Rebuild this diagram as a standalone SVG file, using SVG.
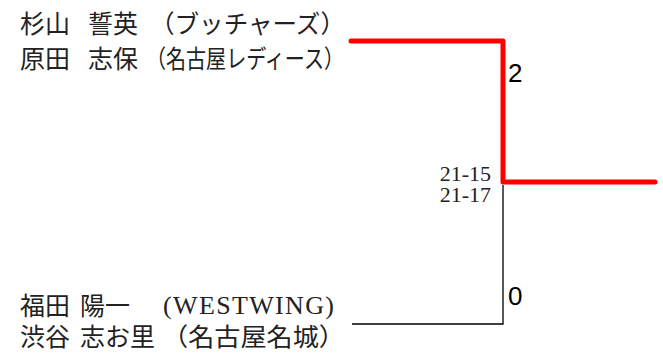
<svg xmlns="http://www.w3.org/2000/svg" width="663" height="356" viewBox="0 0 663 356">
<style>
.jp{font-family:"Noto Sans CJK JP","Noto Sans CJK SC",sans-serif;font-size:25px;fill:#222}
.lat{font-family:"Liberation Serif","Noto Sans CJK JP",serif;font-size:26px;fill:#222}
.score{font-family:"Liberation Serif",serif;font-size:22px;fill:#222;text-anchor:end}
.games{font-family:"Liberation Sans",sans-serif;font-size:26px;fill:#000}
.win{fill:none;stroke:#ff0000;stroke-width:5;stroke-linecap:round;stroke-linejoin:round}
.lose{fill:none;stroke:#000;stroke-width:1.3}
</style>
<rect width="663" height="356" fill="#fff"/>
<g id="connectors">
<path class="lose" d="M352,324 H503 V185"/>
<path class="win" d="M351,41 H503 V182 H655"/>
</g>
<g id="team1">
<text class="jp" x="20" y="33">杉山</text>
<text class="jp" x="88" y="33">誓英</text>
<text class="jp" x="150" y="33" textLength="195" lengthAdjust="spacingAndGlyphs">（ブッチャーズ）</text>
<text class="jp" x="20" y="68">原田</text>
<text class="jp" x="88" y="68">志保</text>
<text class="jp" x="146" y="68" textLength="198" lengthAdjust="spacingAndGlyphs">（名古屋レディース）</text>
</g>
<g id="team2">
<text class="jp" x="20" y="315">福田</text>
<text class="jp" x="80" y="315">陽一</text>
<text class="lat" x="163" y="314" textLength="171" lengthAdjust="spacing">(WESTWING)</text>
<text class="jp" x="20" y="346">渋谷</text>
<text class="jp" x="80" y="346">志お里</text>
<text class="jp" x="162" y="346" textLength="183" lengthAdjust="spacingAndGlyphs">（名古屋名城）</text>
</g>
<g id="scores">
<text class="score" x="491" y="181">21-15</text>
<text class="score" x="491" y="202">21-17</text>
</g>
<g id="games">
<text class="games" x="508" y="82">2</text>
<text class="games" x="508" y="305">0</text>
</g>
</svg>
